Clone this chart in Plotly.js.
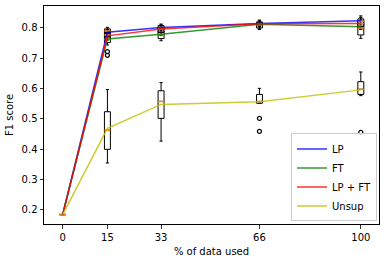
<!DOCTYPE html>
<html>
<head>
<meta charset="utf-8">
<script src="https://cdn.plot.ly/plotly-3.0.1.min.js"></script>
<style>html,body{margin:0;padding:0;background:#fff;}#chart{width:386px;height:262px;}</style>
</head>
<body>
<div id="chart"></div>
<script>
// x positions (% of data used)
const xs = [0, 15, 33, 66, 100];
const xTickLabels = ['0', '15', '33', '66', '100'];
const methods = ['LP', 'FT', 'LP + FT', 'Unsup'];
const lineColors = ['rgba(0,0,255,0.8)', 'rgba(0,128,0,0.8)', 'rgba(255,0,0,0.8)', 'rgba(191,191,0,0.8)'];

// line values (mean F1)
const lpMean    = [0.185, 0.786, 0.802, 0.815, 0.824];
const ftMean    = [0.185, 0.764, 0.779, 0.812, 0.804];
const lpftMean  = [0.185, 0.774, 0.797, 0.814, 0.815];
const unsupMean = [0.185, 0.469, 0.548, 0.557, 0.596];

// box statistics per method
const lpLo  = [0.185, 0.775, 0.785, 0.805, 0.810];
const lpQ1  = [0.185, 0.782, 0.795, 0.810, 0.815];
const lpMed = [0.185, 0.790, 0.800, 0.815, 0.822];
const lpQ3  = [0.185, 0.797, 0.808, 0.820, 0.830];
const lpHi  = [0.185, 0.802, 0.813, 0.826, 0.840];

const ftLo  = [0.185, 0.744, 0.758, 0.795, 0.766];
const ftQ1  = [0.185, 0.752, 0.765, 0.800, 0.777];
const ftMed = [0.185, 0.762, 0.778, 0.810, 0.800];
const ftQ3  = [0.185, 0.772, 0.790, 0.815, 0.815];
const ftHi  = [0.185, 0.785, 0.800, 0.820, 0.826];

const lpftLo  = [0.185, 0.760, 0.775, 0.800, 0.795];
const lpftQ1  = [0.185, 0.770, 0.785, 0.808, 0.805];
const lpftMed = [0.185, 0.777, 0.797, 0.813, 0.815];
const lpftQ3  = [0.185, 0.785, 0.803, 0.818, 0.822];
const lpftHi  = [0.185, 0.795, 0.810, 0.824, 0.835];

const unLo  = [0.185, 0.355, 0.427, 0.552, 0.577];
const unQ1  = [0.185, 0.400, 0.502, 0.552, 0.581];
const unMed = [0.185, 0.463, 0.558, 0.558, 0.598];
const unQ3  = [0.185, 0.524, 0.593, 0.581, 0.623];
const unHi  = [0.185, 0.597, 0.620, 0.601, 0.655];

// outliers
const outX = [15, 15, 66, 66, 100];
const outY = [0.722, 0.710, 0.502, 0.459, 0.456];

const means = [lpMean, ftMean, lpftMean, unsupMean];
const stats = [
  [lpLo, lpQ1, lpMed, lpQ3, lpHi],
  [ftLo, ftQ1, ftMed, ftQ3, ftHi],
  [lpftLo, lpftQ1, lpftMed, lpftQ3, lpftHi],
  [unLo, unQ1, unMed, unQ3, unHi]
];

const traces = [];
methods.forEach((m, i) => {
  traces.push({
    type: 'scatter', mode: 'lines', x: xs, y: means[i], name: m,
    line: {color: lineColors[i], width: 1.5}, hoverinfo: 'skip'
  });
});
stats.forEach((s, i) => {
  traces.push({
    type: 'box', x: xs, lowerfence: s[0], q1: s[1], median: s[2], q3: s[3], upperfence: s[4],
    width: 2, whiskerwidth: 0.55, boxpoints: false, showlegend: false,
    line: {color: 'black', width: 1}, fillcolor: 'rgba(0,0,0,0)', hoverinfo: 'skip'
  });
});
stats.forEach((s, i) => {
  traces.push({
    type: 'box', x: xs, lowerfence: s[2], q1: s[2], median: s[2], q3: s[2], upperfence: s[2],
    width: 2, whiskerwidth: 0, boxpoints: false, showlegend: false,
    line: {color: '#ff7f0e', width: 1.5}, fillcolor: 'rgba(0,0,0,0)', hoverinfo: 'skip'
  });
});
traces.push({
  type: 'scatter', mode: 'markers', x: outX, y: outY, showlegend: false,
  marker: {symbol: 'circle-open', size: 4, color: 'black', line: {width: 1.2}}, hoverinfo: 'skip'
});

const axisCommon = {
  showline: true, linecolor: 'black', linewidth: 1, mirror: true,
  ticks: 'outside', ticklen: 3.5, tickwidth: 0.8, tickcolor: 'black',
  showgrid: false, zeroline: false,
  tickfont: {family: 'DejaVu Sans', size: 10, color: 'black'}
};

const layout = {
  width: 386, height: 262,
  margin: {l: 44, r: 7, t: 6, b: 38},
  paper_bgcolor: 'white', plot_bgcolor: 'white',
  boxmode: 'overlay',
  font: {family: 'DejaVu Sans', size: 10, color: 'black'},
  xaxis: Object.assign({}, axisCommon, {
    range: [-6.27, 106.1], tickmode: 'array', tickvals: xs, ticktext: xTickLabels,
    title: {text: '% of data used', font: {family: 'DejaVu Sans', size: 10, color: 'black'}, standoff: 6}
  }),
  yaxis: Object.assign({}, axisCommon, {
    range: [0.1538, 0.8725], tickmode: 'array',
    tickvals: [0.2, 0.3, 0.4, 0.5, 0.6, 0.7, 0.8],
    ticktext: ['0.2', '0.3', '0.4', '0.5', '0.6', '0.7', '0.8'],
    title: {text: 'F1 score', font: {family: 'DejaVu Sans', size: 10, color: 'black'}, standoff: 6}
  }),
  legend: {
    x: 0.994, xanchor: 'right', y: 0.012, yanchor: 'bottom',
    bgcolor: 'rgba(255,255,255,0.8)', bordercolor: '#cccccc', borderwidth: 1,
    font: {family: 'DejaVu Sans', size: 10, color: 'black'},
    itemwidth: 30
  },
  showlegend: true
};

Plotly.newPlot('chart', traces, layout, {staticPlot: true, displayModeBar: false});
</script>
</body>
</html>
